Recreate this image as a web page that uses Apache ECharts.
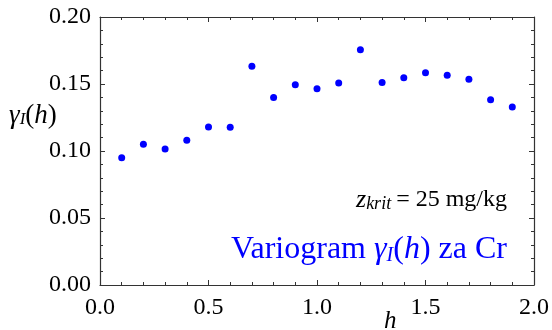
<!DOCTYPE html>
<html><head><meta charset="utf-8">
<script src="https://cdn.jsdelivr.net/npm/echarts@6/dist/echarts.min.js"></script>
<style>html,body{margin:0;padding:0;background:#fff}#c{width:552px;height:330px}</style>
</head><body><div id="c"></div>
<script>
const lags = [0.1,0.2,0.3,0.4,0.5,0.6,0.7,0.8,0.9,1.0,1.1,1.2,1.3,1.4,1.5,1.6,1.7,1.8,1.9];
const gammaVals = [0.095,0.105,0.1015,0.108,0.118,0.1177,0.1632,0.140,0.1495,0.1465,0.1507,0.1756,0.1512,0.1547,0.1584,0.1565,0.1535,0.1383,0.1328];
const xTicks = [0.0,0.5,1.0,1.5,2.0];
const yTicks = [0.00,0.05,0.10,0.15,0.20];

const FONT = '"Liberation Serif", "Times New Roman", serif';
const chart = echarts.init(document.getElementById('c'), null, {renderer:'canvas'});
const axisCommon = {
  axisLine:{show:true,onZero:false,lineStyle:{color:'#333',width:1.2}},
  axisTick:{show:true,inside:true,length:5,lineStyle:{color:'#333',width:1}},
  minorTick:{show:true,splitNumber:5,length:3,lineStyle:{color:'#333',width:1}},
  splitLine:{show:false},
};
chart.setOption({
  animation:false,
  grid:{left:100,right:18,top:17,bottom:45},
  xAxis:[
    Object.assign({type:'value',min:xTicks[0],max:xTicks[xTicks.length-1],interval:0.5,position:'bottom',
      axisLabel:{fontFamily:FONT,fontSize:24,color:'#000',margin:11,formatter:v=>v.toFixed(1)}},axisCommon),
    Object.assign({type:'value',min:xTicks[0],max:xTicks[xTicks.length-1],interval:0.5,position:'top',
      axisLabel:{show:false}},axisCommon)
  ],
  yAxis:[
    Object.assign({type:'value',min:yTicks[0],max:yTicks[yTicks.length-1],interval:0.05,position:'left',
      axisLabel:{fontFamily:FONT,fontSize:24,color:'#000',margin:9,formatter:v=>v.toFixed(2)}},axisCommon),
    Object.assign({type:'value',min:yTicks[0],max:yTicks[yTicks.length-1],interval:0.05,position:'right',
      axisLabel:{show:false}},axisCommon)
  ],
  series:[{type:'scatter',symbol:'circle',symbolSize:7,itemStyle:{color:'#0000ff',opacity:1},
    data:lags.map((x,i)=>[x,gammaVals[i]])}],
  graphic:[
    {type:'text',left:9,top:102,style:{text:'{g|γ}{s|I}{n|(}{g|h}{n|)}',
      rich:{g:{fontFamily:FONT,fontStyle:'italic',fontSize:27,fill:'#000'},
            s:{fontFamily:FONT,fontStyle:'italic',fontSize:17,fill:'#000',padding:[9,0,0,0]},
            n:{fontFamily:FONT,fontSize:27,fill:'#000'}}}},
    {type:'text',left:384,top:309,style:{text:'h',font:'italic 25px '+FONT,fill:'#000'}},
    {type:'text',right:45,top:187,style:{text:'{g|z}{s|krit}{n|= 25 mg/kg}',
      rich:{g:{fontFamily:FONT,fontStyle:'italic',fontSize:26,fill:'#000'},
            s:{fontFamily:FONT,fontStyle:'italic',fontSize:18,fill:'#000',padding:[9,5,0,0]},
            n:{fontFamily:FONT,fontSize:24,fill:'#000'}}}},
    {type:'text',right:45,top:234,style:{text:'{n|Variogram }{g|γ}{s|I}{n|(}{g|h}{n|) za Cr}',
      rich:{g:{fontFamily:FONT,fontStyle:'italic',fontSize:32,fill:'#0000ff'},
            s:{fontFamily:FONT,fontStyle:'italic',fontSize:20,fill:'#0000ff',padding:[11,0,0,0]},
            n:{fontFamily:FONT,fontSize:32,fill:'#0000ff'}}}}
  ]
});
</script></body></html>
